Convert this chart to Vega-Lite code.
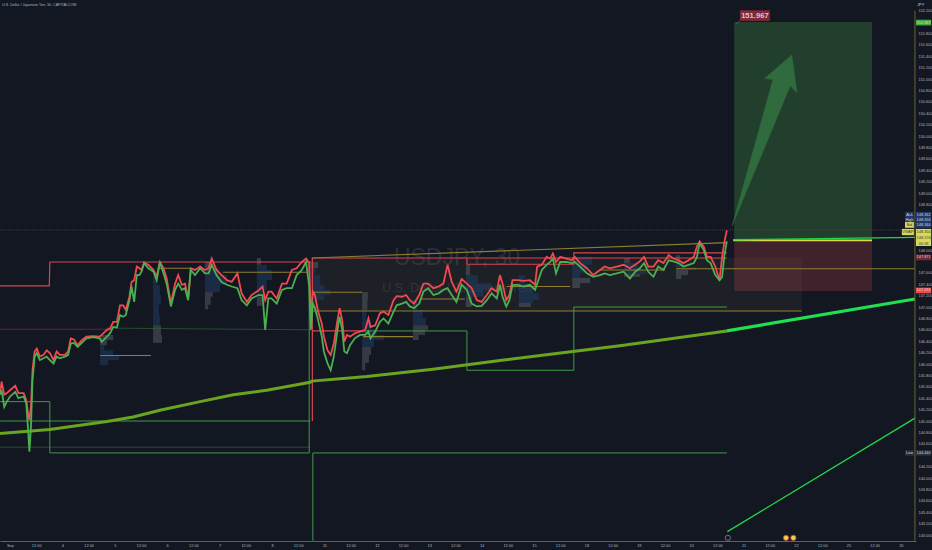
{"$schema":"https://vega.github.io/schema/vega-lite/v6.json","width":916,"height":541,"autosize":{"type":"none"},"padding":{"left":0,"top":0,"right":16,"bottom":9},"background":"#131722","view":{"stroke":null,"fill":"#131722"},
"datasets":{
"price":[{"t":-0.19,"a":145.49,"b":145.46},{"t":-0.16,"a":145.69,"b":145.54},{"t":-0.11,"a":145.46,"b":145.25},{"t":-0.06,"a":145.49,"b":145.34},{"t":0,"a":145.54,"b":145.43},{"t":0.1,"a":145.62,"b":145.51},{"t":0.16,"a":145.49,"b":145.4},{"t":0.26,"a":145.49,"b":145.43},{"t":0.31,"a":145.37,"b":145.31},{"t":0.35,"a":145.1,"b":144.78},{"t":0.37,"a":145.02,"b":144.46},{"t":0.4,"a":145.25,"b":144.9},{"t":0.43,"a":145.89,"b":145.72},{"t":0.47,"a":146.22,"b":146.13},{"t":0.51,"a":146.27,"b":146.19},{"t":0.57,"a":146.13,"b":146.07},{"t":0.64,"a":146.16,"b":146.1},{"t":0.7,"a":146.24,"b":146.13},{"t":0.76,"a":146.19,"b":146.07},{"t":0.83,"a":146.07,"b":146.01},{"t":0.89,"a":146.22,"b":146.13},{"t":0.95,"a":146.16,"b":146.1},{"t":1.05,"a":146.16,"b":146.13},{"t":1.11,"a":146.22,"b":146.16},{"t":1.16,"a":146.45,"b":146.36},{"t":1.22,"a":146.43,"b":146.37},{"t":1.29,"a":146.33,"b":146.3},{"t":1.37,"a":146.42,"b":146.37},{"t":1.46,"a":146.48,"b":146.45},{"t":1.59,"a":146.49,"b":146.47},{"t":1.71,"a":146.48,"b":146.45},{"t":1.75,"a":146.51,"b":146.39},{"t":1.85,"a":146.6,"b":146.48},{"t":1.91,"a":146.62,"b":146.54},{"t":1.97,"a":146.74,"b":146.65},{"t":2.04,"a":146.74,"b":146.64},{"t":2.1,"a":147.03,"b":146.86},{"t":2.16,"a":147.03,"b":146.83},{"t":2.21,"a":146.95,"b":146.86},{"t":2.28,"a":147.18,"b":147.12},{"t":2.32,"a":147.44,"b":147.36},{"t":2.37,"a":147.47,"b":147.09},{"t":2.42,"a":147.71,"b":147.56},{"t":2.47,"a":147.68,"b":147.56},{"t":2.51,"a":147.65,"b":147.62},{"t":2.56,"a":147.78,"b":147.77},{"t":2.64,"a":147.74,"b":147.68},{"t":2.74,"a":147.65,"b":147.62},{"t":2.8,"a":147.53,"b":147.47},{"t":2.86,"a":147.79,"b":147.79},{"t":2.93,"a":147.68,"b":147.59},{"t":2.99,"a":147.5,"b":147.41},{"t":3.07,"a":147.06,"b":147.01},{"t":3.15,"a":147.41,"b":147.3},{"t":3.21,"a":147.56,"b":147.41},{"t":3.28,"a":147.39,"b":147.3},{"t":3.34,"a":147.41,"b":147.33},{"t":3.4,"a":147.15,"b":147.12},{"t":3.45,"a":147.68,"b":147.65},{"t":3.53,"a":147.65,"b":147.56},{"t":3.63,"a":147.71,"b":147.68},{"t":3.72,"a":147.65,"b":147.59},{"t":3.79,"a":147.68,"b":147.59},{"t":3.85,"a":147.85,"b":147.74},{"t":3.94,"a":147.65,"b":147.56},{"t":4.04,"a":147.56,"b":147.44},{"t":4.14,"a":147.47,"b":147.39},{"t":4.23,"a":147.44,"b":147.36},{"t":4.34,"a":147.59,"b":147.33},{"t":4.42,"a":147.24,"b":147.12},{"t":4.52,"a":147.09,"b":147.03},{"t":4.61,"a":147.21,"b":147.15},{"t":4.74,"a":147.29,"b":147.21},{"t":4.82,"a":147.36,"b":147.21},{"t":4.87,"a":147.12,"b":146.6},{"t":4.93,"a":147.27,"b":147.15},{"t":4.99,"a":147.27,"b":147.15},{"t":5.09,"a":147.15,"b":147.06},{"t":5.19,"a":147.41,"b":147.3},{"t":5.28,"a":147.41,"b":147.33},{"t":5.38,"a":147.65,"b":147.33},{"t":5.47,"a":147.68,"b":147.56},{"t":5.57,"a":147.79,"b":147.65},{"t":5.65,"a":147.85,"b":147.79},{"t":5.71,"a":147.77,"b":147.36},{"t":5.74,"a":146.83,"b":146.6},{"t":5.78,"a":147.27,"b":147.06},{"t":5.82,"a":147.21,"b":146.98},{"t":5.88,"a":146.92,"b":146.77},{"t":5.95,"a":146.71,"b":146.48},{"t":5.99,"a":146.48,"b":146.22},{"t":6.06,"a":146.24,"b":146.01},{"t":6.12,"a":146.16,"b":145.89},{"t":6.18,"a":146.36,"b":146.13},{"t":6.25,"a":146.77,"b":146.6},{"t":6.29,"a":146.98,"b":146.83},{"t":6.34,"a":146.77,"b":146.6},{"t":6.38,"a":146.39,"b":146.22},{"t":6.43,"a":146.51,"b":146.19},{"t":6.49,"a":146.48,"b":146.33},{"t":6.58,"a":146.54,"b":146.45},{"t":6.68,"a":146.57,"b":146.51},{"t":6.78,"a":146.6,"b":146.51},{"t":6.84,"a":146.8,"b":146.57},{"t":6.88,"a":146.65,"b":146.45},{"t":6.97,"a":146.68,"b":146.57},{"t":7.06,"a":146.89,"b":146.74},{"t":7.13,"a":146.92,"b":146.8},{"t":7.22,"a":146.86,"b":146.71},{"t":7.32,"a":147.12,"b":146.92},{"t":7.38,"a":147.19,"b":147.03},{"t":7.48,"a":147.18,"b":147.06},{"t":7.56,"a":147.21,"b":147.09},{"t":7.63,"a":147.12,"b":147.01},{"t":7.71,"a":147.06,"b":146.98},{"t":7.81,"a":147.21,"b":147.06},{"t":7.89,"a":147.41,"b":147.27},{"t":7.98,"a":147.41,"b":147.33},{"t":8.08,"a":147.33,"b":147.21},{"t":8.18,"a":147.36,"b":147.24},{"t":8.27,"a":147.41,"b":147.3},{"t":8.35,"a":147.74,"b":147.33},{"t":8.43,"a":147.44,"b":147.21},{"t":8.52,"a":147.27,"b":147.09},{"t":8.62,"a":147.49,"b":147.39},{"t":8.72,"a":147.41,"b":147.3},{"t":8.81,"a":147.33,"b":147.06},{"t":8.91,"a":147.12,"b":147.01},{"t":9,"a":147.09,"b":147.02},{"t":9.1,"a":147.21,"b":147.12},{"t":9.19,"a":147.33,"b":147.24},{"t":9.29,"a":147.27,"b":147.15},{"t":9.35,"a":147.56,"b":147.39},{"t":9.4,"a":147.41,"b":147.18},{"t":9.47,"a":147.12,"b":147.01},{"t":9.53,"a":147.21,"b":147.12},{"t":9.59,"a":147.47,"b":147.39},{"t":9.7,"a":147.47,"b":147.39},{"t":9.8,"a":147.46,"b":147.36},{"t":9.92,"a":147.47,"b":147.39},{"t":10.02,"a":147.39,"b":147.3},{"t":10.06,"a":147.71,"b":147.41},{"t":10.15,"a":147.74,"b":147.65},{"t":10.24,"a":147.88,"b":147.74},{"t":10.31,"a":147.85,"b":147.79},{"t":10.36,"a":147.94,"b":147.85},{"t":10.42,"a":147.79,"b":147.59},{"t":10.5,"a":147.88,"b":147.79},{"t":10.62,"a":147.85,"b":147.79},{"t":10.72,"a":147.82,"b":147.77},{"t":10.78,"a":147.88,"b":147.79},{"t":10.88,"a":147.77,"b":147.71},{"t":11.01,"a":147.68,"b":147.59},{"t":11.13,"a":147.56,"b":147.53},{"t":11.26,"a":147.65,"b":147.56},{"t":11.35,"a":147.71,"b":147.59},{"t":11.45,"a":147.68,"b":147.56},{"t":11.58,"a":147.71,"b":147.59},{"t":11.71,"a":147.74,"b":147.62},{"t":11.83,"a":147.68,"b":147.5},{"t":11.93,"a":147.74,"b":147.62},{"t":12.02,"a":147.8,"b":147.68},{"t":12.1,"a":147.88,"b":147.77},{"t":12.18,"a":147.71,"b":147.62},{"t":12.28,"a":147.71,"b":147.53},{"t":12.37,"a":147.82,"b":147.71},{"t":12.47,"a":147.77,"b":147.65},{"t":12.57,"a":147.91,"b":147.82},{"t":12.66,"a":147.85,"b":147.8},{"t":12.76,"a":147.82,"b":147.77},{"t":12.85,"a":147.77,"b":147.71},{"t":12.95,"a":147.82,"b":147.74},{"t":13.05,"a":147.88,"b":147.77},{"t":13.11,"a":148.06,"b":147.88},{"t":13.16,"a":148.15,"b":148.12},{"t":13.24,"a":148.06,"b":148},{"t":13.3,"a":147.88,"b":147.82},{"t":13.37,"a":147.88,"b":147.77},{"t":13.46,"a":147.71,"b":147.56},{"t":13.54,"a":147.47,"b":147.47},{"t":13.59,"a":147.88,"b":147.53},{"t":13.63,"a":148.12,"b":147.88},{"t":13.68,"a":148.35,"b":148.15}],
"lines":[
{"s":"r1","k":"red","i":1,"t":-0.19,"p":147.37},{"s":"r1","k":"red","i":2,"t":0.75,"p":147.37},{"s":"r1","k":"red","i":3,"t":0.76,"p":147.79},{"s":"r1","k":"red","i":4,"t":5.75,"p":147.79},
{"s":"r2","k":"red","i":1,"t":5.77,"p":145},{"s":"r2","k":"red","i":2,"t":5.77,"p":147.86},{"s":"r2","k":"red","i":3,"t":13.68,"p":147.86},
{"s":"r3","k":"red","i":1,"t":8.72,"p":147.86},{"s":"r3","k":"red","i":2,"t":8.72,"p":147.75},{"s":"r3","k":"red","i":3,"t":10.76,"p":147.75},{"s":"r3","k":"red","i":4,"t":10.76,"p":147.95},{"s":"r3","k":"red","i":5,"t":13.68,"p":147.95},
{"s":"r4","k":"redthin","i":1,"t":-0.19,"p":146.61},{"s":"r4","k":"redthin","i":2,"t":1.85,"p":146.61},
{"s":"g1","k":"green","i":1,"t":-0.19,"p":145.34},{"s":"g1","k":"green","i":2,"t":0.76,"p":145.34},{"s":"g1","k":"green","i":3,"t":0.76,"p":144.44},{"s":"g1","k":"green","i":4,"t":5.71,"p":144.44},{"s":"g1","k":"green","i":5,"t":5.71,"p":147.79},
{"s":"g2","k":"green","i":1,"t":5.78,"p":142.9},{"s":"g2","k":"green","i":2,"t":5.78,"p":144.44},{"s":"g2","k":"green","i":3,"t":13.68,"p":144.44},
{"s":"g3","k":"green","i":1,"t":6.77,"p":146.58},{"s":"g3","k":"green","i":2,"t":8.72,"p":146.58},{"s":"g3","k":"green","i":3,"t":8.72,"p":145.89},{"s":"g3","k":"green","i":4,"t":10.76,"p":145.89},{"s":"g3","k":"green","i":5,"t":10.76,"p":147},{"s":"g3","k":"green","i":6,"t":13.68,"p":147},
{"s":"r5","k":"red","i":1,"t":5.78,"p":146.58},{"s":"r5","k":"red","i":2,"t":6.77,"p":146.58},
{"s":"g4","k":"green","i":1,"t":-0.19,"p":145},{"s":"g4","k":"green","i":2,"t":5.73,"p":145},
{"s":"g5","k":"greendark","i":1,"t":-0.19,"p":144.54},{"s":"g5","k":"greendark","i":2,"t":5.73,"p":144.54},
{"s":"g6","k":"greendark","i":1,"t":1.85,"p":146.63},{"s":"g6","k":"greendark","i":2,"t":5.78,"p":146.6},
{"s":"o1","k":"gold","i":1,"t":1.72,"p":146.15},{"s":"o1","k":"gold","i":2,"t":2.69,"p":146.15},
{"s":"o2","k":"gold","i":1,"t":2.81,"p":147.68},{"s":"o2","k":"gold","i":2,"t":3.44,"p":147.68},
{"s":"o3","k":"gold","i":1,"t":4.06,"p":147.61},{"s":"o3","k":"gold","i":2,"t":5.69,"p":147.61},
{"s":"o4","k":"gold","i":1,"t":5.78,"p":147.26},{"s":"o4","k":"gold","i":2,"t":6.72,"p":147.26},
{"s":"o5","k":"gold","i":1,"t":6.74,"p":146.48},{"s":"o5","k":"gold","i":2,"t":7.69,"p":146.48},
{"s":"o6","k":"gold","i":1,"t":7.82,"p":147.14},{"s":"o6","k":"gold","i":2,"t":8.68,"p":147.14},
{"s":"o7","k":"gold","i":1,"t":9.48,"p":147.36},{"s":"o7","k":"gold","i":2,"t":10.69,"p":147.36},
{"s":"o8","k":"gold","i":1,"t":11.26,"p":147.65},{"s":"o8","k":"gold","i":2,"t":12.5,"p":147.65},
{"s":"o9","k":"gold","i":1,"t":12.71,"p":147.67},{"s":"o9","k":"gold","i":2,"t":17.27,"p":147.67},
{"s":"o10","k":"gold","i":1,"t":5.76,"p":147.86},{"s":"o10","k":"gold","i":2,"t":13.68,"p":148.13},
{"s":"o11","k":"gold","i":1,"t":5.78,"p":146.93},{"s":"o11","k":"gold","i":2,"t":15.11,"p":146.93},
{"s":"ma","k":"ma","i":1,"t":-0.19,"p":144.78},{"s":"ma","k":"ma","i":2,"t":0.76,"p":144.85},{"s":"ma","k":"ma","i":3,"t":1.85,"p":144.99},{"s":"ma","k":"ma","i":4,"t":2.35,"p":145.07},{"s":"ma","k":"ma","i":5,"t":2.86,"p":145.19},{"s":"ma","k":"ma","i":6,"t":3.63,"p":145.34},{"s":"ma","k":"ma","i":7,"t":4.26,"p":145.46},{"s":"ma","k":"ma","i":8,"t":4.9,"p":145.54},{"s":"ma","k":"ma","i":9,"t":5.73,"p":145.68},{"s":"ma","k":"ma","i":10,"t":5.76,"p":145.7},{"s":"ma","k":"ma","i":11,"t":6.81,"p":145.78},{"s":"ma","k":"ma","i":12,"t":8.07,"p":145.91},{"s":"ma","k":"ma","i":13,"t":9.35,"p":146.06},{"s":"ma","k":"ma","i":14,"t":10.74,"p":146.22},{"s":"ma","k":"ma","i":15,"t":11.64,"p":146.32},{"s":"ma","k":"ma","i":16,"t":13.68,"p":146.58},
{"s":"mb","k":"bright","i":1,"t":13.68,"p":146.58},{"s":"mb","k":"bright","i":2,"t":17.27,"p":147.14},
{"s":"lo","k":"brightthin","i":1,"t":13.69,"p":143.06},{"s":"lo","k":"brightthin","i":2,"t":17.27,"p":145.05},
{"s":"en","k":"yellow","i":1,"t":13.8,"p":148.17},{"s":"en","k":"yellow","i":2,"t":16.45,"p":148.17},
{"s":"up","k":"brightthin","i":1,"t":13.8,"p":148.18},{"s":"up","k":"brightthin","i":2,"t":17.27,"p":148.22},
{"s":"tag","k":"lead","i":1,"t":13.85,"p":151.96},{"s":"tag","k":"lead","i":2,"t":13.93,"p":152.02},
{"s":"ax","k":"axis","i":1,"t":17.27,"p":152.2},{"s":"ax","k":"axis","i":2,"t":17.27,"p":142.9}],
"profile":[
{"t":1.72,"t1":1.97,"p":146.51,"p1":146.42,"k":"g"},{"t":1.72,"t1":1.85,"p":146.42,"p1":146.33,"k":"g"},{"t":1.72,"t1":1.8,"p":146.33,"p1":146.24,"k":"b"},{"t":1.72,"t1":1.97,"p":146.24,"p1":146.16,"k":"b"},{"t":1.72,"t1":2.08,"p":146.16,"p1":146.07,"k":"b"},{"t":1.72,"t1":1.87,"p":146.07,"p1":145.98,"k":"b"},
{"t":2.73,"t1":2.79,"p":147.56,"p1":147.39,"k":"b"},{"t":2.73,"t1":2.86,"p":147.39,"p1":147.21,"k":"b"},{"t":2.73,"t1":2.88,"p":147.21,"p1":147.04,"k":"b"},{"t":2.73,"t1":2.84,"p":147.04,"p1":146.86,"k":"b"},{"t":2.73,"t1":2.86,"p":146.86,"p1":146.68,"k":"b"},{"t":2.73,"t1":2.88,"p":146.68,"p1":146.51,"k":"g"},{"t":2.73,"t1":2.9,"p":146.51,"p1":146.37,"k":"g"},
{"t":3.72,"t1":3.83,"p":147.79,"p1":147.68,"k":"g"},{"t":3.72,"t1":3.99,"p":147.68,"p1":147.56,"k":"b"},{"t":3.72,"t1":4.14,"p":147.56,"p1":147.39,"k":"b"},{"t":3.72,"t1":4.01,"p":147.39,"p1":147.26,"k":"b"},{"t":3.72,"t1":3.87,"p":147.26,"p1":147.18,"k":"g"},{"t":3.72,"t1":3.83,"p":147.18,"p1":147.04,"k":"g"},{"t":3.72,"t1":3.78,"p":147.04,"p1":146.96,"k":"g"},
{"t":4.71,"t1":4.79,"p":147.86,"p1":147.74,"k":"g"},{"t":4.71,"t1":4.9,"p":147.74,"p1":147.65,"k":"b"},{"t":4.71,"t1":5,"p":147.65,"p1":147.47,"k":"b"},{"t":4.71,"t1":4.9,"p":147.47,"p1":147.3,"k":"b"},{"t":4.71,"t1":4.82,"p":147.3,"p1":147.18,"k":"b"},{"t":4.71,"t1":4.81,"p":147.18,"p1":147.02,"k":"g"},
{"t":5.73,"t1":5.88,"p":147.79,"p1":147.68,"k":"g"},{"t":5.73,"t1":5.83,"p":147.68,"p1":147.56,"k":"b"},{"t":5.73,"t1":5.92,"p":147.56,"p1":147.39,"k":"b"},{"t":5.73,"t1":6,"p":147.39,"p1":147.3,"k":"b"},{"t":5.73,"t1":6.11,"p":147.3,"p1":147.21,"k":"b"},{"t":5.73,"t1":6,"p":147.21,"p1":147.12,"k":"b"},{"t":5.73,"t1":5.83,"p":147.12,"p1":147.07,"k":"b"},
{"t":6.72,"t1":6.83,"p":147.26,"p1":147.12,"k":"g"},{"t":6.72,"t1":6.82,"p":147.12,"p1":146.95,"k":"g"},{"t":6.72,"t1":6.8,"p":146.95,"p1":146.77,"k":"b"},{"t":6.72,"t1":6.89,"p":146.77,"p1":146.6,"k":"b"},{"t":6.72,"t1":6.99,"p":146.6,"p1":146.51,"k":"b"},{"t":6.72,"t1":7.14,"p":146.51,"p1":146.42,"k":"b"},{"t":6.72,"t1":6.95,"p":146.42,"p1":146.3,"k":"b"},{"t":6.72,"t1":6.89,"p":146.3,"p1":146.16,"k":"g"},{"t":6.72,"t1":6.85,"p":146.16,"p1":146.02,"k":"g"},{"t":6.72,"t1":6.78,"p":146.02,"p1":145.89,"k":"g"},
{"t":7.69,"t1":7.77,"p":147.12,"p1":146.95,"k":"b"},{"t":7.69,"t1":7.88,"p":146.95,"p1":146.81,"k":"b"},{"t":7.69,"t1":7.94,"p":146.81,"p1":146.68,"k":"b"},{"t":7.69,"t1":7.98,"p":146.68,"p1":146.6,"k":"g"},{"t":7.69,"t1":7.92,"p":146.6,"p1":146.51,"k":"g"},{"t":7.69,"t1":7.8,"p":146.51,"p1":146.42,"k":"g"},
{"t":8.7,"t1":8.78,"p":147.74,"p1":147.56,"k":"g"},{"t":8.7,"t1":8.93,"p":147.56,"p1":147.42,"k":"b"},{"t":8.7,"t1":9.18,"p":147.42,"p1":147.3,"k":"b"},{"t":8.7,"t1":9.04,"p":147.3,"p1":147.18,"k":"b"},{"t":8.7,"t1":8.81,"p":147.18,"p1":147,"k":"g"},
{"t":9.71,"t1":9.82,"p":147.56,"p1":147.39,"k":"b"},{"t":9.71,"t1":9.98,"p":147.39,"p1":147.24,"k":"b"},{"t":9.71,"t1":10.09,"p":147.24,"p1":147.12,"k":"b"},{"t":9.71,"t1":9.98,"p":147.12,"p1":147.07,"k":"b"},{"t":9.71,"t1":9.94,"p":147.07,"p1":147,"k":"g"},
{"t":10.73,"t1":11.11,"p":147.88,"p1":147.74,"k":"b"},{"t":10.73,"t1":11,"p":147.74,"p1":147.6,"k":"b"},{"t":10.73,"t1":10.88,"p":147.6,"p1":147.51,"k":"b"},{"t":10.73,"t1":11.07,"p":147.51,"p1":147.42,"k":"g"},{"t":10.73,"t1":10.88,"p":147.42,"p1":147.33,"k":"g"},
{"t":11.72,"t1":11.83,"p":147.86,"p1":147.77,"k":"g"},{"t":11.72,"t1":11.99,"p":147.77,"p1":147.65,"k":"b"},{"t":11.72,"t1":12.14,"p":147.65,"p1":147.58,"k":"b"},{"t":11.72,"t1":12.03,"p":147.58,"p1":147.53,"k":"g"},
{"t":12.71,"t1":12.79,"p":147.91,"p1":147.79,"k":"g"},{"t":12.71,"t1":12.86,"p":147.79,"p1":147.7,"k":"b"},{"t":12.71,"t1":13.09,"p":147.7,"p1":147.65,"k":"b"},{"t":12.71,"t1":12.94,"p":147.65,"p1":147.56,"k":"g"},{"t":12.71,"t1":12.81,"p":147.56,"p1":147.49,"k":"g"}],
"tags":[
{"t":13.93,"t1":14.5,"p":152.205,"p1":152.02,"k":"note"},
{"t":17.29,"t1":17.58,"p":152.04,"p1":151.94,"k":"tp"},
{"t":17.08,"t1":17.25,"p":148.67,"p1":148.57,"k":"navy"},{"t":17.29,"t1":17.58,"p":148.67,"p1":148.57,"k":"navy"},
{"t":17.08,"t1":17.25,"p":148.58,"p1":148.48,"k":"navy"},{"t":17.29,"t1":17.58,"p":148.58,"p1":148.48,"k":"navy"},
{"t":17.08,"t1":17.25,"p":148.49,"p1":148.39,"k":"yel"},{"t":17.29,"t1":17.58,"p":148.49,"p1":148.39,"k":"navy"},
{"t":17.02,"t1":17.25,"p":148.37,"p1":148.26,"k":"yel"},{"t":17.29,"t1":17.58,"p":148.37,"p1":148.07,"k":"yel"},
{"t":17.29,"t1":17.58,"p":147.92,"p1":147.82,"k":"dred"},
{"t":17.29,"t1":17.58,"p":147.34,"p1":147.24,"k":"bred"},
{"t":17.08,"t1":17.25,"p":144.49,"p1":144.39,"k":"grey"},{"t":17.29,"t1":17.58,"p":144.49,"p1":144.39,"k":"grey"}],
"tagtext":[
{"t":14.215,"p":152.11,"x":"151.967","k":"note"},
{"t":17.435,"p":151.99,"x":"151.967","k":"yel"},
{"t":17.165,"p":148.62,"x":"Ask","k":"lt"},{"t":17.435,"p":148.62,"x":"148.362","k":"lt"},
{"t":17.165,"p":148.53,"x":"High","k":"lt"},{"t":17.435,"p":148.53,"x":"148.356","k":"lt"},
{"t":17.165,"p":148.44,"x":"Bid","k":"dk"},{"t":17.435,"p":148.44,"x":"148.344","k":"lt"},
{"t":17.135,"p":148.32,"x":"VWAP","k":"dk"},{"t":17.435,"p":148.32,"x":"148.350","k":"dk"},{"t":17.435,"p":148.21,"x":"148.176","k":"dk"},{"t":17.435,"p":148.11,"x":"00:26","k":"dk"},
{"t":17.435,"p":147.87,"x":"147.871","k":"lt"},
{"t":17.435,"p":147.29,"x":"147.293","k":"lt"},
{"t":17.165,"p":144.44,"x":"Low","k":"lt"},{"t":17.435,"p":144.44,"x":"144.440","k":"lt"},
{"t":17.38,"p":152.3,"x":"JPY","k":"lt"}]
},
"encoding":{
"x":{"field":"t","type":"quantitative","scale":{"domain":[-0.1908,17.29],"nice":false,"zero":false},"axis":{"title":null,"grid":false,"ticks":false,"domainColor":"#66662f","domainWidth":1,"labelFontSize":3.9,"labelFont":"Liberation Sans","labelColor":"#b2b5be","labelPadding":2,"labelOverlap":false,"labelFlush":false,"values":[0,0.5,1,1.5,2,2.5,3,3.5,4,4.5,5,5.5,6,6.5,7,7.5,8,8.5,9,9.5,10,10.5,11,11.5,12,12.5,13,13.5,14,14.5,15,15.5,16,16.5,17],"labelExpr":"['Sep','12:00','4','12:00','5','12:00','6','12:00','7','12:00','8','12:00','11','12:00','12','12:00','13','12:00','14','12:00','15','12:00','18','12:00','19','12:00','20','12:00','21','12:00','22','12:00','25','12:00','26'][round(datum.value*2)]"}},
"y":{"field":"p","type":"quantitative","scale":{"domain":[142.895,152.386],"nice":false,"zero":false},"axis":{"orient":"right","title":null,"grid":false,"ticks":false,"domain":false,"labelFontSize":3.9,"labelFont":"Liberation Sans","labelColor":"#b2b5be","labelPadding":2,"labelOverlap":false,"labelFlush":false,"format":".3f","values":[143,143.2,143.4,143.6,143.8,144,144.2,144.6,144.8,145,145.2,145.4,145.6,145.8,146,146.2,146.4,146.6,146.8,147,147.2,147.4,147.6,148,148.8,149,149.2,149.4,149.6,149.8,150,150.2,150.4,150.6,150.8,151,151.2,151.4,151.6,151.8,152.2]}}
},
"layer":[
{"data":{"values":[{"t":8.53,"p":147.86,"x":"USDJPY, 30"}]},"mark":{"type":"text","font":"Liberation Sans","fontSize":23,"color":"#2a2d38","align":"center","baseline":"middle"},"encoding":{"text":{"field":"x"}}},
{"data":{"values":[{"t":8.53,"p":147.33,"x":"U.S. Dollar / Japanese Yen"}]},"mark":{"type":"text","font":"Liberation Sans","fontSize":12.5,"color":"#2a2d38","align":"center","baseline":"middle"},"encoding":{"text":{"field":"x"}}},
{"data":{"values":[{"t":13.82,"t1":16.45,"p":152,"p1":148.16,"k":"tp"},{"t":13.82,"t1":16.45,"p":148.16,"p1":147.28,"k":"sl"}]},"mark":{"type":"rect"},"encoding":{"x2":{"field":"t1"},"y2":{"field":"p1"},"color":{"field":"k","type":"nominal","scale":{"domain":["tp","sl"],"range":["#223f2e","#40222c"]},"legend":null}}},
{"data":{"values":[{"t":5.78,"t1":15.11,"p":147.86,"p1":146.93}]},"mark":{"type":"rect","color":"#80805a","opacity":0.09},"encoding":{"x2":{"field":"t1"},"y2":{"field":"p1"}}},
{"data":{"values":[{"t":-0.19,"p":148.35},{"t":17.27,"p":148.35}]},"mark":{"type":"line","color":"#4a4a48","strokeWidth":0.8,"strokeDash":[1,1]}},
{"data":{"name":"profile"},"mark":{"type":"rect","opacity":0.5},"encoding":{"x2":{"field":"t1"},"y2":{"field":"p1"},"color":{"field":"k","type":"nominal","scale":{"domain":["b","g"],"range":["#1f4068","#5a5d68"]},"legend":null}}},
{"data":{"name":"lines"},"transform":[{"filter":"datum.k=='greendark'"}],"mark":{"type":"line","color":"#2b5a2f","strokeWidth":0.8},"encoding":{"detail":{"field":"s","type":"nominal"},"order":{"field":"i","type":"quantitative"}}},
{"data":{"name":"lines"},"transform":[{"filter":"datum.k=='redthin'"}],"mark":{"type":"line","color":"#7a2a33","strokeWidth":0.8},"encoding":{"detail":{"field":"s","type":"nominal"},"order":{"field":"i","type":"quantitative"}}},
{"data":{"name":"lines"},"transform":[{"filter":"datum.k=='green'"}],"mark":{"type":"line","color":"#3f9b45","strokeWidth":1},"encoding":{"detail":{"field":"s","type":"nominal"},"order":{"field":"i","type":"quantitative"}}},
{"data":{"name":"lines"},"transform":[{"filter":"datum.k=='red'"}],"mark":{"type":"line","color":"#d9454f","strokeWidth":1.2},"encoding":{"detail":{"field":"s","type":"nominal"},"order":{"field":"i","type":"quantitative"}}},
{"data":{"name":"lines"},"transform":[{"filter":"datum.k=='gold'"}],"mark":{"type":"line","color":"#8f7f2e","strokeWidth":1.1},"encoding":{"detail":{"field":"s","type":"nominal"},"order":{"field":"i","type":"quantitative"}}},
{"data":{"name":"lines"},"transform":[{"filter":"datum.k=='ma'"}],"mark":{"type":"line","color":"#6aa51f","strokeWidth":3},"encoding":{"detail":{"field":"s","type":"nominal"},"order":{"field":"i","type":"quantitative"}}},
{"data":{"name":"lines"},"transform":[{"filter":"datum.k=='bright'"}],"mark":{"type":"line","color":"#20e050","strokeWidth":3.2},"encoding":{"detail":{"field":"s","type":"nominal"},"order":{"field":"i","type":"quantitative"}}},
{"data":{"name":"lines"},"transform":[{"filter":"datum.k=='yellow'"}],"mark":{"type":"line","color":"#d8dc4a","strokeWidth":1.8},"encoding":{"detail":{"field":"s","type":"nominal"},"order":{"field":"i","type":"quantitative"}}},
{"data":{"name":"lines"},"transform":[{"filter":"datum.k=='brightthin'"}],"mark":{"type":"line","color":"#20d848","strokeWidth":1.3},"encoding":{"detail":{"field":"s","type":"nominal"},"order":{"field":"i","type":"quantitative"}}},
{"data":{"name":"lines"},"transform":[{"filter":"datum.k=='lead'"}],"mark":{"type":"line","color":"#4a6a8a","strokeWidth":0.8},"encoding":{"detail":{"field":"s","type":"nominal"},"order":{"field":"i","type":"quantitative"}}},
{"data":{"name":"lines"},"transform":[{"filter":"datum.k=='axis'"}],"mark":{"type":"line","color":"#66662f","strokeWidth":1},"encoding":{"detail":{"field":"s","type":"nominal"},"order":{"field":"i","type":"quantitative"}}},
{"data":{"name":"price"},"transform":[{"fold":["a","b"],"as":["k","p"]}],"mark":{"type":"line","strokeWidth":1.8},"encoding":{"color":{"field":"k","type":"nominal","scale":{"domain":["a","b"],"range":["#f4484f","#4caf50"]},"legend":null}}},
{"data":{"values":[{"i":1,"t":13.78,"p":148.42},{"i":2,"t":14.56,"p":150.99},{"i":3,"t":14.4,"p":151.01},{"i":4,"t":14.92,"p":151.42},{"i":5,"t":15.02,"p":150.76},{"i":6,"t":14.89,"p":150.88},{"i":7,"t":13.78,"p":148.42}]},"mark":{"type":"line","fill":"#2f6b3c","stroke":"#2f6b3c","strokeWidth":0.5},"encoding":{"order":{"field":"i","type":"quantitative"}}},
{"data":{"name":"tags"},"mark":{"type":"rect"},"encoding":{"x2":{"field":"t1"},"y2":{"field":"p1"},"color":{"field":"k","type":"nominal","scale":{"domain":["note","tp","navy","yel","dred","bred","grey"],"range":["#80293a","#46a84a","#1f3a6a","#d8d860","#6e2b35","#f04a4a","#2a2e39"]},"legend":null}}},
{"data":{"name":"tagtext"},"mark":{"type":"text","font":"Liberation Sans","fontSize":3.9,"align":"center","baseline":"middle"},"transform":[{"filter":"datum.k!='note'"}],"encoding":{"text":{"field":"x"},"color":{"field":"k","type":"nominal","scale":{"domain":["lt","dk","yel"],"range":["#d1d4dc","#33331a","#e8e870"]},"legend":null}}},
{"data":{"name":"tagtext"},"mark":{"type":"text","font":"Liberation Sans","fontSize":7.6,"fontWeight":"bold","color":"#d6c6c8","align":"center","baseline":"middle"},"transform":[{"filter":"datum.k=='note'"}],"encoding":{"text":{"field":"x"}}},
{"data":{"values":[{"t":-0.15,"p":152.3,"x":"U.S. Dollar / Japanese Yen, 30, CAPITALCOM"}]},"mark":{"type":"text","font":"Liberation Sans","fontSize":3.6,"color":"#b2b5be","align":"left","baseline":"middle"},"encoding":{"text":{"field":"x"}}},
{"data":{"values":[{"t":13.7,"p":142.95,"k":"i"},{"t":14.81,"p":142.95,"k":"e"},{"t":14.95,"p":142.95,"k":"e"}]},"mark":{"type":"point","filled":false,"size":28,"strokeWidth":0.9},"encoding":{"fill":{"field":"k","type":"nominal","scale":{"domain":["i","e"],"range":["#131722","#e8d44a"]},"legend":null},"stroke":{"field":"k","type":"nominal","scale":{"domain":["i","e"],"range":["#787b86","#c8483a"]},"legend":null},"opacity":{"value":1},"fillOpacity":{"value":1}}}
],
"resolve":{"scale":{"color":"independent","fill":"independent","stroke":"independent"}}
}
